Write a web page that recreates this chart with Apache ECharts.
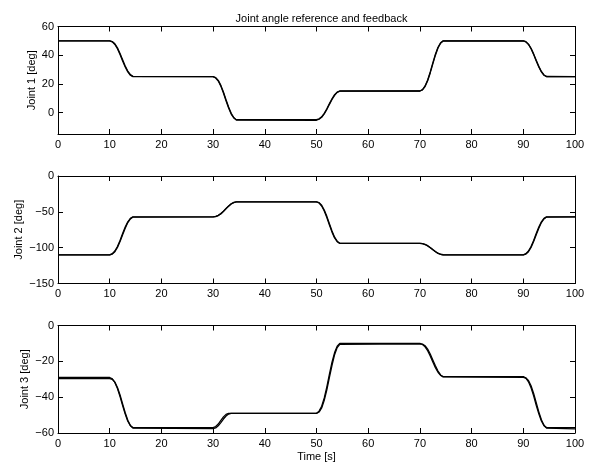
<!DOCTYPE html>
<html>
<head>
<meta charset="utf-8">
<script src="https://cdn.jsdelivr.net/npm/echarts@6/dist/echarts.min.js"></script>
<style>
html,body{margin:0;padding:0;background:#fff;}
#c{width:595px;height:464px;}
</style>
</head>
<body>
<div id="c"></div>
<script>
const titleText = 'Joint angle reference and feedback';
const xAxisName = 'Time [s]';
const yNames = ['Joint 1 [deg]', 'Joint 2 [deg]', 'Joint 3 [deg]'];

const time = [0,
  10,10.5,11,11.5,12,12.5,13,13.5,14,14.5,
  30,30.5,31,31.5,32,32.5,33,33.5,34,34.5,
  50,50.5,51,51.5,52,52.5,53,53.5,54,54.5,
  70,70.5,71,71.5,72,72.5,73,73.5,74,74.5,
  90,90.5,91,91.5,92,92.5,93,93.5,94,94.5,
  100];

const joint1Ref = [50,
  50,49.3,47.5,44.5,40.5,36,31.8,28.3,26,25,
  25,24.1,22,18.4,13.6,8.2,3.1,-1.1,-3.8,-5,
  -5,-4.4,-3,-0.6,2.6,6.2,9.6,12.4,14.2,15,
  15,16,18.5,22.7,28.3,34.6,40.6,45.5,48.6,50,
  50,49.3,47.5,44.5,40.5,36,31.8,28.3,26,25,
  25];
const joint1Fb = [50,
  50,49.5,47.9,45.1,41.2,36.8,32.5,28.9,26.4,25.2,
  25,24.3,22.4,18.9,14.3,8.9,3.8,-0.6,-3.5,-5.3,
  -5.4,-4.7,-3.3,-1,2.1,5.7,9.1,12,14,14.9,
  15,15.8,18.1,22.1,27.6,33.9,40,45,48.3,49.9,
  50,49.4,47.7,44.8,40.9,36.4,32.2,28.6,26.2,25.1,
  25];

const joint2Ref = [-110,
  -110,-108.4,-104.7,-98.3,-89.9,-80.3,-71.3,-63.9,-59.1,-57,
  -57,-56.4,-54.9,-52.4,-49,-45.2,-41.7,-38.7,-36.8,-36,
  -36,-37.7,-41.8,-48.8,-58,-68.5,-78.3,-86.5,-91.7,-94,
  -94,-94.5,-95.6,-97.5,-100.1,-103,-105.7,-107.9,-109.4,-110,
  -110,-108.4,-104.7,-98.3,-89.9,-80.3,-71.3,-63.9,-59.1,-57,
  -57];
const joint2Fb = [-110,
  -110,-108.9,-105.6,-99.6,-91.5,-82,-72.8,-65,-59.8,-57.3,
  -57,-56.6,-55.2,-52.9,-49.6,-45.8,-42.2,-39.1,-37.1,-36.1,
  -36,-37.2,-40.9,-47.4,-56.3,-66.7,-76.7,-85.3,-91,-93.7,
  -94,-94.4,-95.4,-97.2,-99.7,-102.6,-105.4,-107.7,-109.2,-109.9,
  -110,-108.9,-105.6,-99.6,-91.5,-82,-72.8,-65,-59.8,-57.3,
  -57];

const joint3Ref = [-29,
  -29,-29.8,-31.8,-35.2,-39.6,-44.7,-49.4,-53.4,-55.9,-57,
  -57,-56.4,-55,-53,-51,-49.6,-49,-49,-49,-49,
  -49,-47.8,-45.1,-40.4,-34.2,-27.2,-20.5,-15.1,-11.6,-10,
  -10,-10.6,-11.9,-14.1,-17,-20.4,-23.5,-26.1,-27.8,-28.5,
  -28.5,-29.4,-31.4,-34.8,-39.3,-44.5,-49.3,-53.3,-55.9,-57,
  -57];
const joint3Fb = [-29.6,
  -29.6,-30,-31.6,-34.6,-38.8,-43.8,-48.7,-52.9,-55.8,-57.3,
  -57.6,-57.2,-56,-54.2,-52.2,-50.5,-49.4,-49.1,-49.1,-49.1,
  -49.1,-48.3,-46,-41.8,-35.9,-29,-22.2,-16.3,-12.3,-10.5,
  -10.2,-10.4,-11.3,-13.2,-15.9,-19.2,-22.5,-25.4,-27.6,-28.7,
  -29,-29.3,-30.7,-33.6,-37.9,-43.1,-48.2,-52.6,-55.7,-57.3,
  -57.7];

const xTicks = [0,10,20,30,40,50,60,70,80,90,100];
const yRanges = [[-15, 60], [-150, 0], [-60, 0]];
const yTicks = [[0,20,40,60], [-150,-100,-50,0], [-60,-40,-20,0]];

const refs = [joint1Ref, joint2Ref, joint3Ref];
const fbs = [joint1Fb, joint2Fb, joint3Fb];

const font = 'Liberation Sans, Arial, Helvetica, sans-serif';
const tops = [26.5, 176, 325.5];
const H = 107.5;
const nameGaps = [21, 34, 27.5];

const fmt = v => String(v).replace('-', '\u2212');

const grids = [], xAxes = [], yAxes = [], series = [];
for (let i = 0; i < 3; i++) {
  grids.push({left: 58, width: 517, top: tops[i], height: H});
  const lineStyle = {color: '#000', width: 1};
  xAxes.push({
    type: 'value', gridIndex: i, min: 0, max: 100, interval: 10,
    position: 'bottom',
    name: i === 2 ? xAxisName : '', nameLocation: 'middle', nameGap: 18,
    nameMoveOverlap: false,
    nameTextStyle: {fontFamily: font, fontSize: 11, color: '#000'},
    axisLine: {show: true, onZero: false, lineStyle},
    axisTick: {show: true, inside: true, length: 5, lineStyle},
    axisLabel: {show: true, fontFamily: font, fontSize: 11, color: '#000', margin: 5},
    splitLine: {show: false}
  });
  xAxes.push({
    type: 'value', gridIndex: i, min: 0, max: 100, interval: 10,
    position: 'top',
    axisLine: {show: true, onZero: false, lineStyle},
    axisTick: {show: true, inside: true, length: 5, lineStyle},
    axisLabel: {show: false},
    splitLine: {show: false}
  });
  yAxes.push({
    type: 'value', gridIndex: i, min: yRanges[i][0], max: yRanges[i][1],
    position: 'left',
    name: yNames[i], nameLocation: 'middle', nameGap: nameGaps[i], nameRotate: 90,
    nameMoveOverlap: false,
    nameTextStyle: {fontFamily: font, fontSize: 11, color: '#000'},
    axisLine: {show: true, onZero: false, lineStyle},
    axisTick: {show: true, inside: true, length: 5, lineStyle, customValues: yTicks[i]},
    axisLabel: {show: true, fontFamily: font, fontSize: 11, color: '#000', margin: 4,
      customValues: yTicks[i], formatter: fmt},
    splitLine: {show: false}
  });
  yAxes.push({
    type: 'value', gridIndex: i, min: yRanges[i][0], max: yRanges[i][1],
    position: 'right',
    axisLine: {show: true, onZero: false, lineStyle},
    axisTick: {show: true, inside: true, length: 5, lineStyle, customValues: yTicks[i]},
    axisLabel: {show: false, customValues: yTicks[i]},
    splitLine: {show: false}
  });
  const refData = time.map((t, k) => [t, refs[i][k]]);
  const fbData = time.map((t, k) => [t, fbs[i][k]]);
  series.push({
    type: 'line', name: 'reference ' + (i + 1), xAxisIndex: 2 * i, yAxisIndex: 2 * i,
    data: refData, showSymbol: false, symbol: 'none', animation: false,
    lineStyle: {color: '#000', width: 1.3}
  });
  series.push({
    type: 'line', name: 'feedback ' + (i + 1), xAxisIndex: 2 * i, yAxisIndex: 2 * i,
    data: fbData, showSymbol: false, symbol: 'none', animation: false,
    lineStyle: {color: '#000', width: 1.3}
  });
}

const chart = echarts.init(document.getElementById('c'), null, {renderer: 'canvas'});
chart.setOption({
  backgroundColor: '#fff',
  animation: false,
  title: {
    text: titleText, left: 316.5, textAlign: 'center', top: 8,
    textStyle: {fontFamily: font, fontSize: 11, fontWeight: 'normal', color: '#000'}
  },
  grid: grids,
  xAxis: xAxes,
  yAxis: yAxes,
  series: series
});
</script>
</body>
</html>
